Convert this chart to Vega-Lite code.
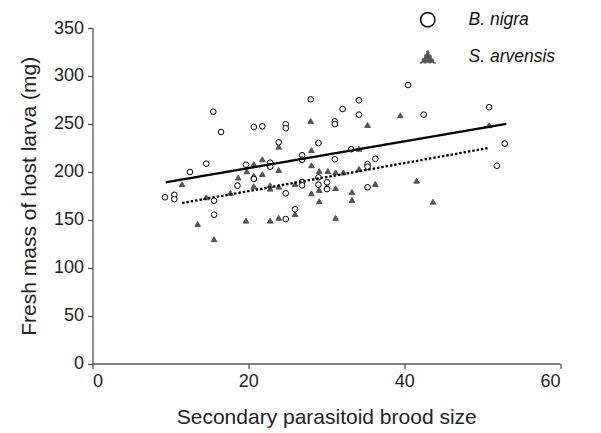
{
  "$schema": "https://vega.github.io/schema/vega-lite/v6.json",
  "width": 467.5,
  "height": 335.5,
  "autosize": "none",
  "padding": {"left": 92.5, "top": 28, "right": 41, "bottom": 69.5},
  "background": "white",
  "config": {
    "view": {"stroke": null},
    "font": "Liberation Sans",
    "axis": {
      "grid": false,
      "domainColor": "#555",
      "tickColor": "#555",
      "domainWidth": 1.3,
      "tickWidth": 1.3,
      "tickSize": 5,
      "labelFont": "Liberation Sans",
      "labelFontSize": 18,
      "labelColor": "#222",
      "titleFont": "Liberation Sans",
      "titleFontSize": 21,
      "titleFontWeight": "normal",
      "titleColor": "#222"
    }
  },
  "datasets": {
    "points": [
      {"species": "S. arvensis", "x": 11.5, "y": 187},
      {"species": "S. arvensis", "x": 13.5, "y": 145.5},
      {"species": "S. arvensis", "x": 14.6, "y": 173.4},
      {"species": "S. arvensis", "x": 15.6, "y": 129.6},
      {"species": "S. arvensis", "x": 17.7, "y": 178.2},
      {"species": "S. arvensis", "x": 18.7, "y": 194},
      {"species": "S. arvensis", "x": 19.7, "y": 149},
      {"species": "S. arvensis", "x": 19.8, "y": 200.5},
      {"species": "S. arvensis", "x": 20.7, "y": 208},
      {"species": "S. arvensis", "x": 20.7, "y": 196},
      {"species": "S. arvensis", "x": 20.7, "y": 185},
      {"species": "S. arvensis", "x": 21.8, "y": 213},
      {"species": "S. arvensis", "x": 21.8, "y": 197.7},
      {"species": "S. arvensis", "x": 22.8, "y": 185.9},
      {"species": "S. arvensis", "x": 22.8, "y": 182.4},
      {"species": "S. arvensis", "x": 22.8, "y": 149},
      {"species": "S. arvensis", "x": 23.9, "y": 226.2},
      {"species": "S. arvensis", "x": 23.9, "y": 201.9},
      {"species": "S. arvensis", "x": 23.9, "y": 184.5},
      {"species": "S. arvensis", "x": 23.9, "y": 152},
      {"species": "S. arvensis", "x": 26.0, "y": 187.3},
      {"species": "S. arvensis", "x": 26.0, "y": 156},
      {"species": "S. arvensis", "x": 26.9, "y": 215},
      {"species": "S. arvensis", "x": 28.0, "y": 253},
      {"species": "S. arvensis", "x": 28.1, "y": 222.7},
      {"species": "S. arvensis", "x": 28.1, "y": 206.8},
      {"species": "S. arvensis", "x": 28.1, "y": 177.5},
      {"species": "S. arvensis", "x": 29.1, "y": 200.8},
      {"species": "S. arvensis", "x": 29.1, "y": 181},
      {"species": "S. arvensis", "x": 29.1, "y": 169.2},
      {"species": "S. arvensis", "x": 30.2, "y": 200.8},
      {"species": "S. arvensis", "x": 30.1, "y": 185},
      {"species": "S. arvensis", "x": 31.2, "y": 199.4},
      {"species": "S. arvensis", "x": 31.2, "y": 183},
      {"species": "S. arvensis", "x": 31.2, "y": 152},
      {"species": "S. arvensis", "x": 32.2, "y": 199.4},
      {"species": "S. arvensis", "x": 33.3, "y": 179},
      {"species": "S. arvensis", "x": 33.3, "y": 170.6},
      {"species": "S. arvensis", "x": 34.2, "y": 224},
      {"species": "S. arvensis", "x": 34.2, "y": 202.9},
      {"species": "S. arvensis", "x": 35.3, "y": 248.8},
      {"species": "S. arvensis", "x": 36.3, "y": 187.3},
      {"species": "S. arvensis", "x": 39.5, "y": 258.9},
      {"species": "S. arvensis", "x": 41.6, "y": 190.7},
      {"species": "S. arvensis", "x": 43.7, "y": 168.8},
      {"species": "S. arvensis", "x": 50.9, "y": 248.5},
      {"species": "B. nigra", "x": 9.3, "y": 173.4},
      {"species": "B. nigra", "x": 10.5, "y": 176},
      {"species": "B. nigra", "x": 10.5, "y": 171.5},
      {"species": "B. nigra", "x": 12.5, "y": 199.8},
      {"species": "B. nigra", "x": 14.6, "y": 208.4},
      {"species": "B. nigra", "x": 15.5, "y": 262.7},
      {"species": "B. nigra", "x": 15.6, "y": 169.8},
      {"species": "B. nigra", "x": 15.6, "y": 155.2},
      {"species": "B. nigra", "x": 16.5, "y": 241.5},
      {"species": "B. nigra", "x": 18.6, "y": 185.5},
      {"species": "B. nigra", "x": 19.7, "y": 207.4},
      {"species": "B. nigra", "x": 20.7, "y": 246.7},
      {"species": "B. nigra", "x": 20.7, "y": 192.5},
      {"species": "B. nigra", "x": 21.8, "y": 247.4},
      {"species": "B. nigra", "x": 22.8, "y": 209.5},
      {"species": "B. nigra", "x": 22.8, "y": 205.3},
      {"species": "B. nigra", "x": 23.9, "y": 230.7},
      {"species": "B. nigra", "x": 24.8, "y": 249.5},
      {"species": "B. nigra", "x": 24.8, "y": 245.4},
      {"species": "B. nigra", "x": 24.8, "y": 177.5},
      {"species": "B. nigra", "x": 24.8, "y": 150.7},
      {"species": "B. nigra", "x": 26.0, "y": 160.9},
      {"species": "B. nigra", "x": 26.9, "y": 217.2},
      {"species": "B. nigra", "x": 26.9, "y": 212.6},
      {"species": "B. nigra", "x": 26.9, "y": 189.3},
      {"species": "B. nigra", "x": 26.9, "y": 185.9},
      {"species": "B. nigra", "x": 28.0, "y": 275.6},
      {"species": "B. nigra", "x": 29.0, "y": 230},
      {"species": "B. nigra", "x": 29.0, "y": 194.2},
      {"species": "B. nigra", "x": 29.0, "y": 186.5},
      {"species": "B. nigra", "x": 30.1, "y": 189},
      {"species": "B. nigra", "x": 30.1, "y": 182},
      {"species": "B. nigra", "x": 31.1, "y": 252.6},
      {"species": "B. nigra", "x": 31.1, "y": 249.8},
      {"species": "B. nigra", "x": 31.1, "y": 213},
      {"species": "B. nigra", "x": 32.1, "y": 265.5},
      {"species": "B. nigra", "x": 33.2, "y": 223.5},
      {"species": "B. nigra", "x": 34.2, "y": 274.6},
      {"species": "B. nigra", "x": 34.2, "y": 259.6},
      {"species": "B. nigra", "x": 35.3, "y": 208},
      {"species": "B. nigra", "x": 35.3, "y": 205.3},
      {"species": "B. nigra", "x": 35.3, "y": 183.8},
      {"species": "B. nigra", "x": 36.3, "y": 213.6},
      {"species": "B. nigra", "x": 40.5, "y": 290.5},
      {"species": "B. nigra", "x": 42.5, "y": 259.6},
      {"species": "B. nigra", "x": 50.9, "y": 267.3},
      {"species": "B. nigra", "x": 51.9, "y": 206.3},
      {"species": "B. nigra", "x": 52.9, "y": 229.4}
    ],
    "lines": [
      {"species": "B. nigra", "x": 9.4, "y": 189},
      {"species": "B. nigra", "x": 53.1, "y": 250},
      {"species": "S. arvensis", "x": 11.5, "y": 167.4},
      {"species": "S. arvensis", "x": 50.8, "y": 224.8}
    ]
  },
  "layer": [
    {
      "data": {"name": "points"},
      "mark": {"type": "point", "filled": true, "strokeWidth": 1, "opacity": 1, "size": 32},
      "encoding": {
        "x": {
          "field": "x", "type": "quantitative",
          "scale": {"domain": [0, 60], "nice": false, "zero": false},
          "axis": {"values": [0, 20, 40, 60], "title": "Secondary parasitoid brood size", "titlePadding": 16, "labelPadding": 4}
        },
        "y": {
          "field": "y", "type": "quantitative",
          "scale": {"domain": [0, 350], "nice": false},
          "axis": {"values": [0, 50, 100, 150, 200, 250, 300, 350], "title": "Fresh mass of host larva (mg)", "titlePadding": 14, "labelPadding": 4}
        },
        "shape": {
          "field": "species", "type": "nominal",
          "scale": {"domain": ["B. nigra", "S. arvensis"], "range": ["circle", "triangle-up"]},
          "legend": {
            "orient": "none",
            "legendX": 326.5,
            "legendY": -17,
            "title": null,
            "padding": 0,
            "rowPadding": 17,
            "labelFont": "Liberation Sans",
            "labelFontStyle": "italic",
            "labelFontSize": 17.5,
            "labelColor": "#111",
            "labelOffset": 32,
            "symbolSize": 200,
            "symbolStrokeWidth": 1.5
          }
        },
        "fill": {
          "field": "species", "type": "nominal", "legend": null,
          "scale": {"domain": ["B. nigra", "S. arvensis"], "range": ["white", "#555555"]}
        },
        "stroke": {
          "field": "species", "type": "nominal", "legend": null,
          "scale": {"domain": ["B. nigra", "S. arvensis"], "range": ["black", "#555555"]}
        }
      }
    },
    {
      "data": {"name": "lines"},
      "mark": {"type": "line", "color": "black", "strokeWidth": 2.3},
      "encoding": {
        "x": {"field": "x", "type": "quantitative"},
        "y": {"field": "y", "type": "quantitative"},
        "detail": {"field": "species", "type": "nominal"},
        "strokeDash": {
          "field": "species", "type": "nominal", "legend": null,
          "scale": {"domain": ["B. nigra", "S. arvensis"], "range": [[1, 0], [2.4, 2]]}
        }
      }
    }
  ]
}
